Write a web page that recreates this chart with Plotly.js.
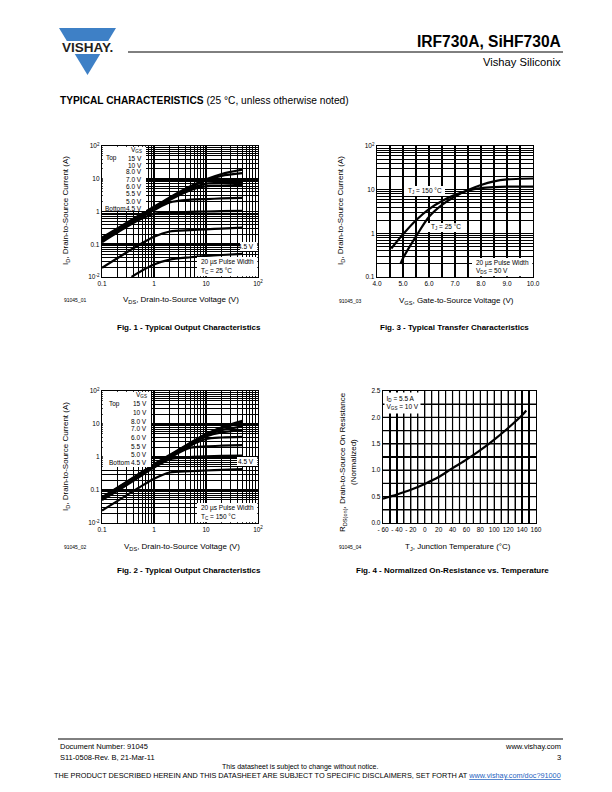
<!DOCTYPE html>
<html>
<head>
<meta charset="utf-8">
<script src="https://cdn.plot.ly/plotly-3.0.1.min.js"></script>
<style>
  body { margin: 0; background: #fff; }
  #page { width: 612px; height: 792px; }
</style>
</head>
<body>
<div id="page"></div>
<script>
// ---- data ----
// Fig. 1 / Fig. 2 : output characteristics, I_D (A) vs V_DS (V)
const vds = [0.1, 0.2, 0.5, 1, 2, 5, 10, 20, 50];
const vgsLabels = ['15 V', '10 V', '8.0 V', '7.0 V', '6.0 V', '5.5 V', '5.0 V', '4.5 V'];

// Tc = 25 degC
const id25_15 = [0.16, 0.31, 0.74, 1.4, 2.7, 5.9, 9.6, 14, 19];
const id25_10 = [0.15, 0.29, 0.71, 1.33, 2.55, 5.5, 8.9, 12.3, 14.8];
const id25_8 = [0.14, 0.28, 0.68, 1.27, 2.4, 5.0, 7.0, 7.5, 7.8];
const id25_7 = [0.135, 0.27, 0.65, 1.2, 2.25, 4.5, 5.9, 6.2, 6.5];
const id25_6 = [0.125, 0.25, 0.6, 1.1, 1.9, 2.3, 2.4, 2.5, 2.6];
const id25_55 = [0.115, 0.23, 0.54, 0.85, 0.93, 0.97, 1.0, 1.02, 1.05];
const id25_5 = [0.019, 0.038, 0.093, 0.17, 0.245, 0.27, 0.285, 0.3, 0.32];
const vds25_45 = [0.37, 0.5, 1, 2, 5, 10, 20, 50];
const id25_45 = [0.01, 0.0135, 0.024, 0.034, 0.04, 0.044, 0.047, 0.051];

// Tc = 150 degC
const id150_15 = [0.06, 0.12, 0.3, 0.6, 1.15, 2.7, 5.0, 8.0, 12.5];
const id150_10 = [0.058, 0.115, 0.29, 0.58, 1.1, 2.6, 4.8, 7.5, 11];
const id150_8 = [0.056, 0.11, 0.28, 0.56, 1.05, 2.5, 4.5, 6.5, 8.5];
const id150_7 = [0.055, 0.105, 0.27, 0.54, 1.0, 2.4, 4.2, 5.6, 6.5];
const id150_6 = [0.053, 0.1, 0.26, 0.52, 0.98, 2.2, 3.5, 3.9, 4.1];
const id150_55 = [0.052, 0.1, 0.25, 0.5, 0.95, 1.9, 2.1, 2.2, 2.3];
const id150_5 = [0.05, 0.095, 0.24, 0.48, 0.85, 1.0, 1.05, 1.08, 1.1];
const id150_45 = [0.024, 0.047, 0.115, 0.22, 0.34, 0.37, 0.39, 0.41, 0.43];

// Fig. 3 : transfer characteristics, I_D (A) vs V_GS (V)
const vgsTj25 = [4.9, 5.0, 5.5, 6.0, 6.5, 7.0, 7.5, 8.0, 8.5, 9.0, 9.5, 10.0];
const idTj25 = [0.2, 0.27, 0.85, 2.4, 4.5, 7.0, 9.8, 12.8, 15.5, 17.2, 17.8, 18];
const vgsTj150 = [4.55, 5.0, 5.5, 6.0, 6.5, 7.0, 7.5, 8.0, 8.5, 9.0, 10.0];
const idTj150 = [0.45, 0.95, 2.0, 3.6, 5.5, 7.6, 9.5, 10.8, 11.4, 11.7, 11.8];

// Fig. 4 : normalized R_DS(on) vs T_J (degC)
const tj = [-60, -40, -20, 0, 20, 40, 60, 80, 100, 120, 140, 146];
const rdsNorm = [0.46, 0.54, 0.63, 0.74, 0.87, 1.04, 1.2, 1.38, 1.58, 1.8, 2.04, 2.13];

// tick labels (every grid line is a tick; unlabeled ones carry '')
const logTicks4 = [0.01, 0.1, 1, 10, 100];
const logText4 = ['10<sup>-2</sup>', '0.1', '1', '10', '10<sup>2</sup>'];
const vdsTicks = [0.1, 1, 10, 100];
const vdsText = ['0.1', '1', '10', '10<sup>2</sup>'];
const vgsTicks = [4, 4.5, 5, 5.5, 6, 6.5, 7, 7.5, 8, 8.5, 9, 9.5, 10];
const vgsText = ['4.0', '', '5.0', '', '6.0', '', '7.0', '', '8.0', '', '9.0', '', '10.0'];
const tjTicks = [-60, -50, -40, -30, -20, -10, 0, 10, 20, 30, 40, 50, 60, 70, 80, 90, 100, 110, 120, 130, 140, 150, 160];
const tjText = ['- 60', '', '- 40', '', '- 20', '', '0', '', '20', '', '40', '', '60', '', '80', '', '100', '', '120', '', '140', '', '160'];
const rdsTicks = [0, 0.25, 0.5, 0.75, 1, 1.25, 1.5, 1.75, 2, 2.25, 2.5];
const rdsText = ['0.0', '', '0.5', '', '1.0', '', '1.5', '', '2.0', '', '2.5'];

// ---- page helpers (page pixels -> paper fractions) ----
const W = 612, H = 792;
const fx = x => x / W;
const fy = y => 1 - y / H;
const FONT = 'Liberation Sans, Arial, Helvetica, sans-serif';

// plot boxes in page pixels
const P1 = {l: 102, r: 258, t: 146, b: 277};
const P2 = {l: 102, r: 258, t: 391, b: 523};
const P3 = {l: 377, r: 533, t: 146, b: 277};
const P4 = {l: 383, r: 536, t: 391, b: 523};

function logMinor(lo, hi) {
    const v = [];
    for (let e = lo; e < hi; e++) {
        for (let m = 2; m <= 9; m++) v.push(m * Math.pow(10, e));
    }
    return v;
}

function baseAxis(extra) {
    return Object.assign({
        showline: true, mirror: true, linecolor: '#000', linewidth: 1.2,
        showgrid: true, gridcolor: '#000', gridwidth: 1.6,
        zeroline: false, ticks: '', fixedrange: true,
        tickfont: {family: FONT, size: 6.5, color: '#000'},
    }, extra);
}

function curve(x, y, xa, ya) {
    return {
        x: x, y: y, xaxis: xa, yaxis: ya,
        type: 'scatter', mode: 'lines', hoverinfo: 'skip',
        line: {color: '#000', width: 2.2, shape: 'spline', smoothing: 0.8},
    };
}

const traces = [
    curve(vds, id25_15, 'x', 'y'),
    curve(vds, id25_10, 'x', 'y'),
    curve(vds, id25_8, 'x', 'y'),
    curve(vds, id25_7, 'x', 'y'),
    curve(vds, id25_6, 'x', 'y'),
    curve(vds, id25_55, 'x', 'y'),
    curve(vds, id25_5, 'x', 'y'),
    curve(vds25_45, id25_45, 'x', 'y'),

    curve(vds, id150_15, 'x2', 'y2'),
    curve(vds, id150_10, 'x2', 'y2'),
    curve(vds, id150_8, 'x2', 'y2'),
    curve(vds, id150_7, 'x2', 'y2'),
    curve(vds, id150_6, 'x2', 'y2'),
    curve(vds, id150_55, 'x2', 'y2'),
    curve(vds, id150_5, 'x2', 'y2'),
    curve(vds, id150_45, 'x2', 'y2'),

    curve(vgsTj25, idTj25, 'x3', 'y3'),
    curve(vgsTj150, idTj150, 'x3', 'y3'),

    curve(tj, rdsNorm, 'x4', 'y4'),
];

function domX(p) { return [fx(p.l), fx(p.r)]; }
function domY(p) { return [fy(p.b), fy(p.t)]; }

const logMinorGrid = (lo, hi) => ({tickmode: 'array', tickvals: logMinor(lo, hi), showgrid: true, gridcolor: '#000', gridwidth: 1, ticks: ''});

// white boxes that hide the grid behind the notes
function whiteBox(p, xa, ya, x0, y0, x1, y1) {
    return {
        type: 'rect',
        xref: xa + ' domain', yref: ya + ' domain',
        x0: (x0 - p.l) / (p.r - p.l), x1: (x1 - p.l) / (p.r - p.l),
        y0: (p.b - y0) / (p.b - p.t), y1: (p.b - y1) / (p.b - p.t),
        fillcolor: '#fff', line: {width: 0},
    };
}

const shapes = [
    whiteBox(P1, 'x', 'y', 102.7, 146.7, 146, 211),
    whiteBox(P1, 'x', 'y', 240, 242, 257.3, 251),
    whiteBox(P1, 'x', 'y', 197, 257, 257.3, 276.3),

    whiteBox(P2, 'x2', 'y2', 102.7, 391.7, 151, 467),
    whiteBox(P2, 'x2', 'y2', 237, 457, 257.3, 466),
    whiteBox(P2, 'x2', 'y2', 197, 503, 257.3, 522.3),

    whiteBox(P3, 'x3', 'y3', 404, 186, 445, 196),
    whiteBox(P3, 'x3', 'y3', 427, 223, 464, 232),
    whiteBox(P3, 'x3', 'y3', 472, 258, 532.3, 276.3),

    // header rule and footer rule
    {type: 'line', xref: 'paper', yref: 'paper', x0: fx(128), x1: fx(563), y0: fy(52), y1: fy(52), line: {color: '#000', width: 1}},
    {type: 'line', xref: 'paper', yref: 'paper', x0: fx(58), x1: fx(563), y0: fy(739), y1: fy(739), line: {color: '#000', width: 1}},

    // logo: blue inverted triangle with a white band for the name
    {type: 'path', xref: 'paper', yref: 'paper',
     path: 'M' + fx(59) + ',' + fy(28) + ' L' + fx(116) + ',' + fy(28) + ' L' + fx(87.5) + ',' + fy(75) + ' Z',
     fillcolor: '#3e80c6', line: {width: 0}},
    {type: 'rect', xref: 'paper', yref: 'paper', x0: fx(50), x1: fx(125), y0: fy(54), y1: fy(41),
     fillcolor: '#fff', line: {width: 0}},
];

// Fig. 4 grid, laid on the x4/y4 scales (black on a black curve, so drawing it on top is harmless)
tjTicks.slice(1, -1).forEach(t => shapes.push({type: 'line', xref: 'x4', yref: 'y4 domain',
    x0: t, x1: t, y0: 0, y1: 1, line: {color: '#000', width: 1.2}}));
rdsTicks.slice(1, -1).forEach(r => shapes.push({type: 'line', xref: 'x4 domain', yref: 'y4',
    x0: 0, x1: 1, y0: r, y1: r, line: {color: '#000', width: 1.2}}));

function note(text, x, y, opts) {
    return Object.assign({
        text: text, xref: 'paper', yref: 'paper', x: fx(x), y: fy(y),
        showarrow: false, xanchor: 'left', yanchor: 'middle',
        font: {family: FONT, size: 6.5, color: '#000'},
    }, opts || {});
}

const annotations = [];
const add = a => annotations.push(a);

// header
add(note('<b>VISHAY.</b>', 87, 47.5, {xanchor: 'center', font: {family: FONT, size: 13.5, color: '#231f20'}}));
add(note('<b>IRF730A, SiHF730A</b>', 563, 41, {xanchor: 'right', font: {family: FONT, size: 15.6, color: '#000'}}));
add(note('Vishay Siliconix', 563, 62, {xanchor: 'right', font: {family: FONT, size: 11.2, color: '#000'}}));
add(note('<b>TYPICAL CHARACTERISTICS</b> (25 °C, unless otherwise noted)', 58, 101, {font: {family: FONT, size: 10.2, color: '#000'}}));

// Fig. 1 legend
const rows1 = [158, 165, 172, 179, 186, 194, 201, 208];
const rows2 = [404, 412, 421, 429, 437, 446, 454, 463];
add(note('V<sub>GS</sub>', 144, 150, {xanchor: 'right'}));
vgsLabels.forEach((t, i) => add(note(t, 144, rows1[i], {xanchor: 'right'})));
add(note('Top', 104, rows1[0]));
add(note('Bottom', 103, rows1[7]));
add(note('4.5 V', 256, 246.5, {xanchor: 'right'}));
add(note('20 µs Pulse Width', 199, 262));
add(note('T<sub>C</sub> = 25 °C', 199, 271));

// Fig. 2 legend
add(note('V<sub>GS</sub>', 149, 395, {xanchor: 'right'}));
vgsLabels.forEach((t, i) => add(note(t, 149, rows2[i], {xanchor: 'right'})));
add(note('Top', 107, rows2[0]));
add(note('Bottom', 107, rows2[7]));
add(note('4.5 V', 256, 461.5, {xanchor: 'right'}));
add(note('20 µs Pulse Width', 199, 508));
add(note('T<sub>C</sub> = 150 °C', 199, 517));

// Fig. 3 notes
add(note('T<sub>J</sub> = 150 °C', 406, 191));
add(note('T<sub>J</sub> = 25 °C', 429, 227.5));
add(note('20 µs Pulse Width', 474, 263));
add(note('V<sub>DS</sub> = 50 V', 474, 271));

// Fig. 4 notes (white box drawn by the annotation itself)
add(note('I<sub>D</sub> = 5.5 A<br>V<sub>GS</sub> = 10 V', 384, 392, {yanchor: 'top', align: 'left',
    bgcolor: '#fff', borderpad: 1.5}));

// axis titles, figure ids and captions
const titleFont = {family: FONT, size: 8, color: '#000'};
const capFont = {family: FONT, size: 8, color: '#000'};
const idFont = {family: FONT, size: 5, color: '#000'};
add(note('I<sub>D</sub>, Drain-to-Source Current (A)', 66, 211, {xanchor: 'center', textangle: -90, font: titleFont}));
add(note('V<sub>DS</sub>, Drain-to-Source Voltage (V)', 181, 300, {xanchor: 'center', font: titleFont}));
add(note('91045_01', 62, 300, {font: idFont}));
add(note('<b>Fig. 1 - Typical Output Characteristics</b>', 189, 327, {xanchor: 'center', font: capFont}));

add(note('I<sub>D</sub>, Drain-to-Source Current (A)', 341, 211, {xanchor: 'center', textangle: -90, font: titleFont}));
add(note('V<sub>GS</sub>, Gate-to-Source Voltage (V)', 456, 301, {xanchor: 'center', font: titleFont}));
add(note('91045_03', 337, 301, {font: idFont}));
add(note('<b>Fig. 3 - Typical Transfer Characteristics</b>', 454, 327, {xanchor: 'center', font: capFont}));

add(note('I<sub>D</sub>, Drain-to-Source Current (A)', 66, 457, {xanchor: 'center', textangle: -90, font: titleFont}));
add(note('V<sub>DS</sub>, Drain-to-Source Voltage (V)', 182, 547, {xanchor: 'center', font: titleFont}));
add(note('91045_02', 62, 547, {font: idFont}));
add(note('<b>Fig. 2 - Typical Output Characteristics</b>', 189, 570, {xanchor: 'center', font: capFont}));

add(note('R<sub>DS(on)</sub>, Drain-to-Source On Resistance', 343, 462, {xanchor: 'center', textangle: -90, font: titleFont}));
add(note('(Normalized)', 353, 462, {xanchor: 'center', textangle: -90, font: titleFont}));
add(note('T<sub>J</sub>, Junction Temperature (°C)', 458, 547, {xanchor: 'center', font: titleFont}));
add(note('91045_04', 337, 547, {font: idFont}));
add(note('<b>Fig. 4 - Normalized On-Resistance vs. Temperature</b>', 452, 570, {xanchor: 'center', font: capFont}));

// footer
const footFont = {family: FONT, size: 7.5, color: '#000'};
add(note('Document Number: 91045', 58, 746, {font: footFont}));
add(note('S11-0508-Rev. B, 21-Mar-11', 58, 757, {font: footFont}));
add(note('www.vishay.com', 563, 746, {xanchor: 'right', font: footFont}));
add(note('3', 563, 757, {xanchor: 'right', font: footFont}));
add(note('This datasheet is subject to change without notice.', 300, 767, {xanchor: 'center', font: {family: FONT, size: 7, color: '#000'}}));
add(note('THE PRODUCT DESCRIBED HEREIN AND THIS DATASHEET ARE SUBJECT TO SPECIFIC DISCLAIMERS, SET FORTH AT ' +
    '<span style="color:#1f5fbf"><u>www.vishay.com/doc?91000</u></span>', 563, 775, {xanchor: 'right', font: {family: FONT, size: 7.3, color: '#000'}}));

const layout = {
    width: W, height: H,
    margin: {l: 0, r: 0, t: 0, b: 0},
    paper_bgcolor: '#fff', plot_bgcolor: '#fff',
    showlegend: false,
    xaxis: baseAxis({domain: domX(P1), anchor: 'y', type: 'log', range: [-1, 2],
        tickmode: 'array', tickvals: vdsTicks, ticktext: vdsText, minor: logMinorGrid(-1, 2)}),
    yaxis: baseAxis({domain: domY(P1), anchor: 'x', type: 'log', range: [-2, 2],
        tickmode: 'array', tickvals: logTicks4, ticktext: logText4, minor: logMinorGrid(-2, 2)}),
    xaxis2: baseAxis({domain: domX(P2), anchor: 'y2', type: 'log', range: [-1, 2],
        tickmode: 'array', tickvals: vdsTicks, ticktext: vdsText, minor: logMinorGrid(-1, 2)}),
    yaxis2: baseAxis({domain: domY(P2), anchor: 'x2', type: 'log', range: [-2, 2],
        tickmode: 'array', tickvals: logTicks4, ticktext: logText4, minor: logMinorGrid(-2, 2)}),
    xaxis3: baseAxis({domain: domX(P3), anchor: 'y3', range: [4, 10], gridwidth: 1.1,
        tickmode: 'array', tickvals: vgsTicks, ticktext: vgsText}),
    yaxis3: baseAxis({domain: domY(P3), anchor: 'x3', type: 'log', range: [-1, 2],
        tickmode: 'array', tickvals: logTicks4.slice(1), ticktext: logText4.slice(1), minor: logMinorGrid(-1, 2)}),
    xaxis4: baseAxis({domain: domX(P4), anchor: 'y4', range: [-60, 160], gridwidth: 1.2,
        tickmode: 'array', tickvals: tjTicks, ticktext: tjText}),
    yaxis4: baseAxis({domain: domY(P4), anchor: 'x4', range: [0, 2.5], gridwidth: 1.2,
        tickmode: 'array', tickvals: rdsTicks, ticktext: rdsText}),
    shapes: shapes,
    annotations: annotations,
};

Plotly.newPlot('page', traces, layout, {staticPlot: true});
</script>
</body>
</html>
